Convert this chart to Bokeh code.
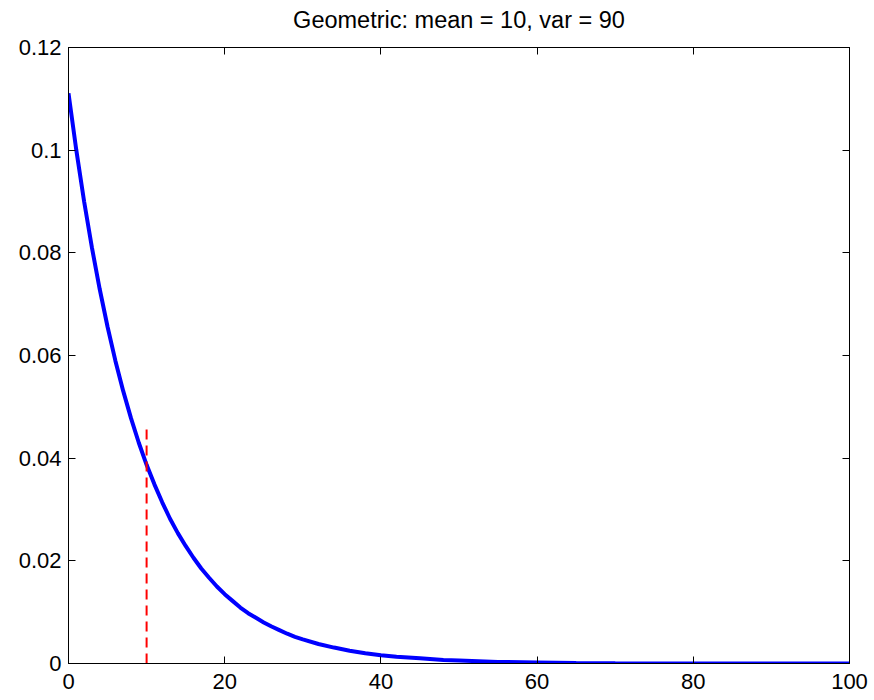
from bokeh.plotting import figure
from bokeh.models import Range1d, LinearAxis, FixedTicker
from bokeh.embed import file_html
from bokeh.resources import INLINE

# Geometric pmf (x, probability)
x_vals = [0, 1, 2, 3, 4, 5, 6, 7, 8, 9, 10, 11, 12, 13, 14, 15, 16, 17, 18, 19,
          20, 21, 22, 23, 24, 25, 26, 27, 28, 29, 30, 32, 34, 36, 38, 40, 42, 45,
          48, 50, 55, 60, 65, 70, 80, 90, 100]
y_vals = [0.1111, 0.1, 0.09, 0.081, 0.0729, 0.0656, 0.0590, 0.0531, 0.0478, 0.0430,
          0.0387, 0.0349, 0.0314, 0.0282, 0.0254, 0.0229, 0.0206, 0.0185, 0.0167,
          0.0150, 0.0135, 0.0122, 0.0109, 0.0098, 0.0089, 0.0080, 0.0072, 0.0065,
          0.0058, 0.0052, 0.0047, 0.0038, 0.0031, 0.0025, 0.0020, 0.0016, 0.0013,
          0.0010, 0.0007, 0.0006, 0.0003, 0.0002, 0.0001, 0.00007, 0.00002,
          0.00001, 0.0]
mean_x = [10, 10]
mean_y = [0.0, 0.046]

x_ticks = [0, 20, 40, 60, 80, 100]
y_ticks = [0, 0.02, 0.04, 0.06, 0.08, 0.1, 0.12]
y_labels = {0: "0", 0.02: "0.02", 0.04: "0.04", 0.06: "0.06", 0.08: "0.08", 0.1: "0.1", 0.12: "0.12"}
title_text = "Geometric: mean = 10, var = 90"

p = figure(width=874, height=700, output_backend="svg", toolbar_location=None,
           x_range=Range1d(0, 100), y_range=Range1d(0, 0.12),
           min_border_left=68, min_border_right=25, min_border_top=47, min_border_bottom=37)
p.frame_width = 781
p.frame_height = 616
p.grid.visible = False
p.outline_line_color = "black"
p.outline_line_width = 1
p.background_fill_color = "white"
p.border_fill_color = "white"

p.line(x_vals, y_vals, line_color="#0000ff", line_width=4)
p.line(mean_x, mean_y, line_color="#ff0000", line_width=2, line_dash="10 6")

def style(ax, labels=True):
    ax.axis_line_color = "black"
    ax.axis_line_width = 1
    ax.major_tick_in = 7
    ax.major_tick_out = 0
    ax.minor_tick_line_color = None
    ax.major_tick_line_color = "black"
    ax.major_label_text_font = "Liberation Sans"
    ax.major_label_text_font_size = "22px"
    ax.major_label_text_color = "black" if labels else None

p.xaxis.ticker = FixedTicker(ticks=x_ticks)
p.yaxis.ticker = FixedTicker(ticks=y_ticks)
p.yaxis.major_label_overrides = y_labels
style(p.xaxis[0])
style(p.yaxis[0])
p.xaxis.major_label_standoff = 10
p.yaxis.major_label_standoff = 7

# top axis: inward ticks, no tick labels, carries the chart title
top = LinearAxis(ticker=FixedTicker(ticks=x_ticks))
style(top, labels=False)
top.major_label_text_font_size = "0px"
top.major_label_standoff = 0
top.axis_label = title_text
top.axis_label_text_font = "Liberation Sans"
top.axis_label_text_font_size = "23.5px"
top.axis_label_text_font_style = "normal"
top.axis_label_text_color = "black"
top.axis_label_standoff = 15
p.add_layout(top, "above")

right = LinearAxis(ticker=FixedTicker(ticks=y_ticks))
style(right, labels=False)
right.major_label_text_font_size = "0px"
right.major_label_standoff = 0
p.add_layout(right, "right")

open("out.html", "w").write(file_html(p, INLINE))
